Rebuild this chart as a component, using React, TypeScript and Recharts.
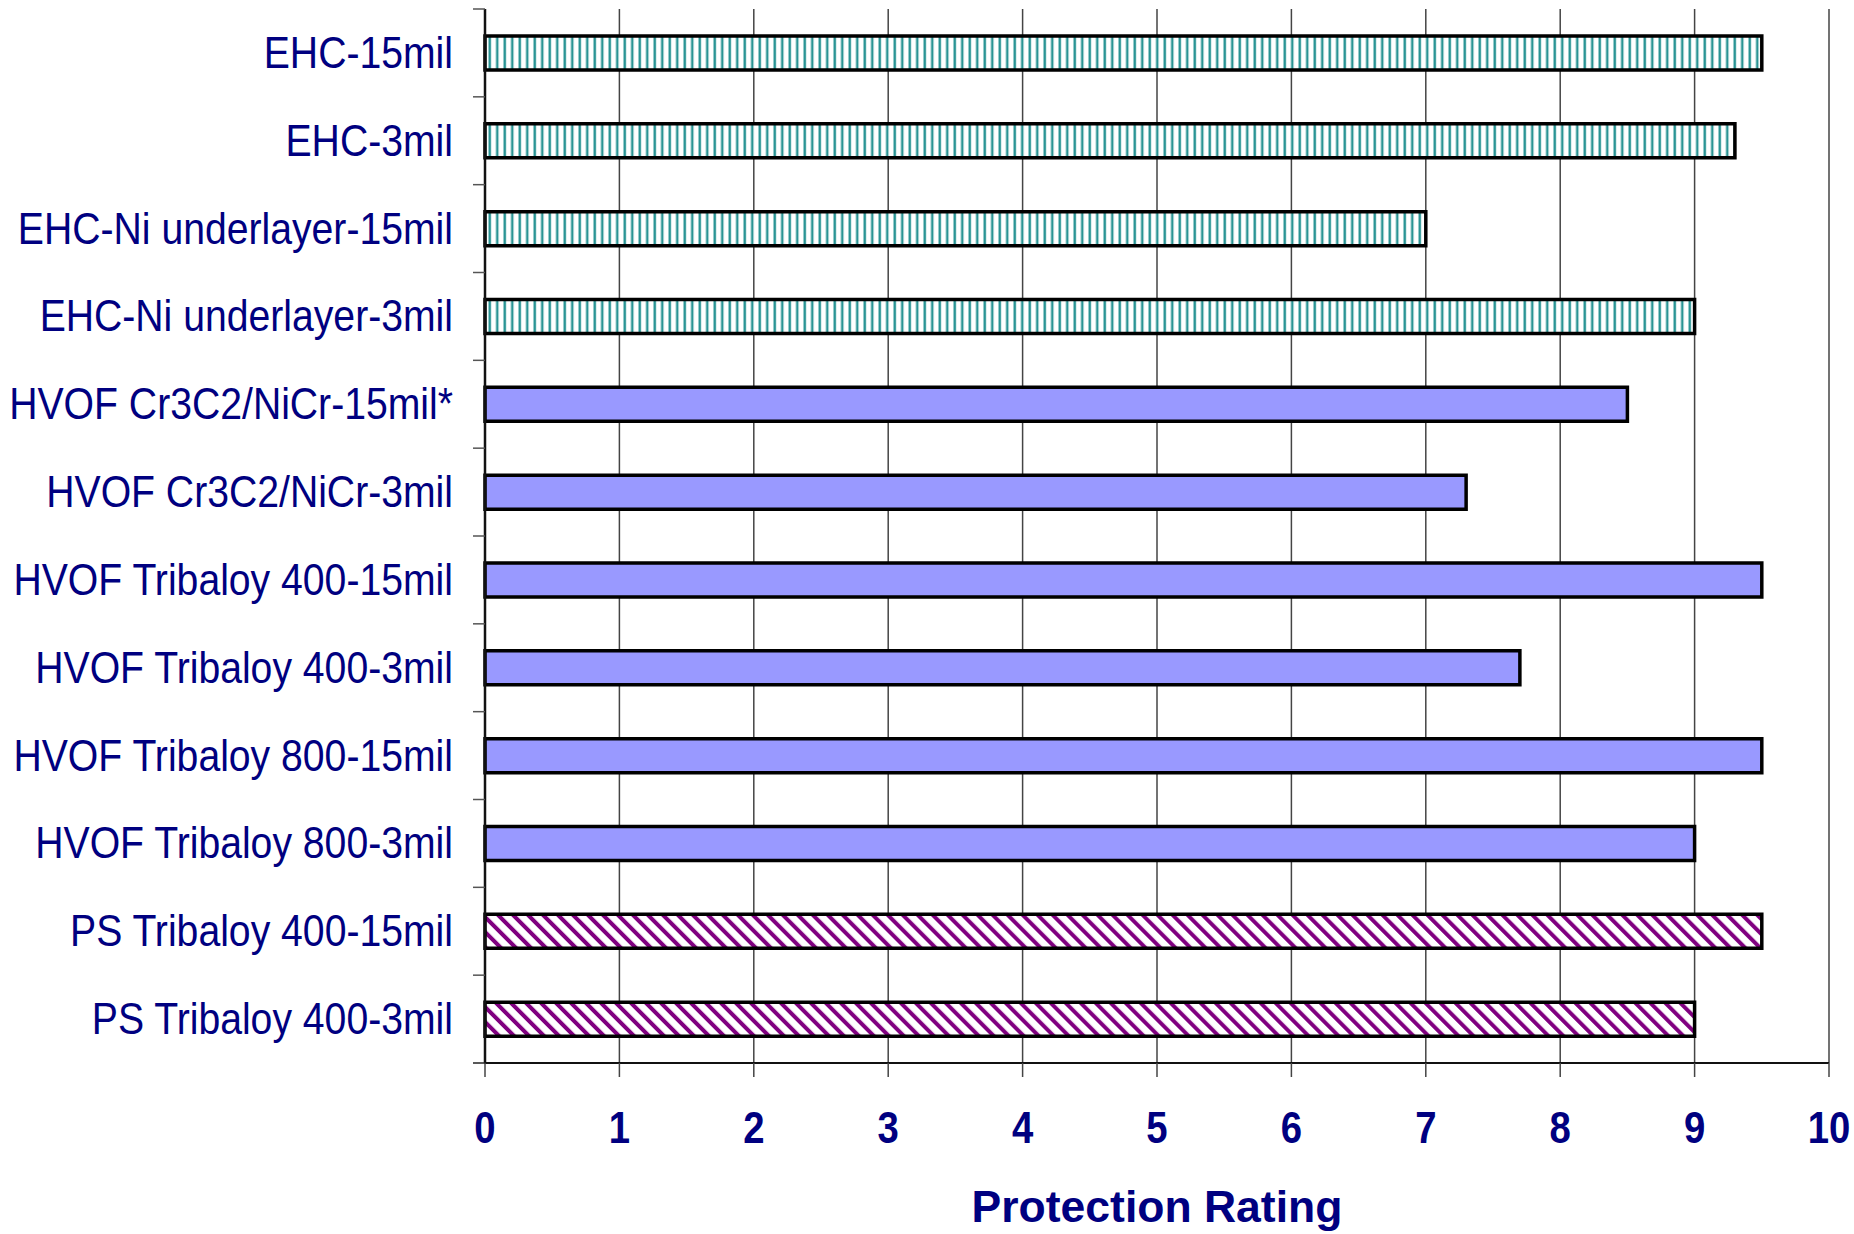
import React from 'react'
import { BarChart, Bar, XAxis, YAxis, CartesianGrid, Cell, Label } from 'recharts'

const coatings = [
  'EHC-15mil',
  'EHC-3mil',
  'EHC-Ni underlayer-15mil',
  'EHC-Ni underlayer-3mil',
  'HVOF Cr3C2/NiCr-15mil*',
  'HVOF Cr3C2/NiCr-3mil',
  'HVOF Tribaloy 400-15mil',
  'HVOF Tribaloy 400-3mil',
  'HVOF Tribaloy 800-15mil',
  'HVOF Tribaloy 800-3mil',
  'PS Tribaloy 400-15mil',
  'PS Tribaloy 400-3mil',
]
const ratings = [9.5, 9.3, 7.0, 9.0, 8.5, 7.3, 9.5, 7.7, 9.5, 9.0, 9.5, 9.0]
const processes = ['EHC', 'EHC', 'EHC', 'EHC', 'HVOF', 'HVOF', 'HVOF', 'HVOF', 'HVOF', 'HVOF', 'PS', 'PS']
const xTicks = [0, 1, 2, 3, 4, 5, 6, 7, 8, 9, 10]

const FILLS: Record<string, string> = {
  EHC: 'url(#tealStripes)',
  HVOF: '#9999FF',
  PS: 'url(#purpleStripes)',
}

const NAVY = '#000080'
const FONT = '"Liberation Sans", Arial, sans-serif'
const BAND = 1054 / 12

const data = coatings.map((name, i) => ({ name, value: ratings[i], process: processes[i] }))

const CategoryTick = (props: any) => {
  const { x, y, payload, index } = props
  const last = index === coatings.length - 1
  return (
    <g>
      <line x1={x - 12} x2={x} y1={y - BAND / 2} y2={y - BAND / 2} stroke="#555" strokeWidth={1.5} />
      {last && <line x1={x - 12} x2={x} y1={y + BAND / 2} y2={y + BAND / 2} stroke="#222" strokeWidth={1.5} />}
      <g transform={`translate(${x - 32},${y + 15}) scale(0.89,1)`}>
        <text x={0} y={0} textAnchor="end" fill={NAVY} fontSize={44} fontFamily={FONT}>
          {payload.value}
        </text>
      </g>
    </g>
  )
}

const RatingTick = (props: any) => {
  const { x, y, payload } = props
  return (
    <g transform={`translate(${x},${y + 66}) scale(0.87,1)`}>
      <text x={0} y={0} textAnchor="middle" fill={NAVY} fontSize={44} fontWeight="bold" fontFamily={FONT}>
        {payload.value}
      </text>
    </g>
  )
}

export default function App() {
  return (
    // fixed to the window so nothing scrolls; the reference is cut just under the title
    <div style={{ position: 'fixed', left: 0, top: 0, width: 1854, height: 1234, overflow: 'hidden', background: '#fff' }}>
      <div style={{ position: 'absolute', left: 8, top: 8 }}>
        <BarChart
          width={1846}
          height={1226}
          data={data}
          layout="vertical"
          margin={{ top: 1, right: 25, bottom: 0, left: 0 }}
          barCategoryGap={0}
        >
          <defs>
            <pattern id="tealStripes" patternUnits="userSpaceOnUse" width={7.5} height={10}>
              <rect x={0} y={0} width={7.5} height={10} fill="#fff" />
              <rect x={0.5} y={0} width={2.5} height={10} fill="#2a9494" />
            </pattern>
            <pattern
              id="purpleStripes"
              patternUnits="userSpaceOnUse"
              width={10.6}
              height={10.6}
              patternTransform="rotate(-45)"
            >
              <rect x={0} y={0} width={10.6} height={10.6} fill="#fff" />
              <rect x={0} y={0} width={4} height={10.6} fill="#800080" />
            </pattern>
          </defs>
          <CartesianGrid horizontal={false} stroke="#444" strokeWidth={1.5} />
          <XAxis
            type="number"
            domain={[0, 10]}
            ticks={xTicks}
            interval={0}
            height={171}
            tickSize={14}
            tickMargin={0}
            axisLine={{ stroke: '#111', strokeWidth: 2 }}
            tickLine={{ stroke: '#444', strokeWidth: 1.5 }}
            tick={<RatingTick />}
          >
            <Label
              content={(p: any) => {
                const vb = p.viewBox
                return (
                  <text
                    x={vb.x + vb.width / 2}
                    y={vb.y + 159}
                    textAnchor="middle"
                    fill={NAVY}
                    fontSize={44.5}
                    fontWeight="bold"
                    fontFamily={FONT}
                  >
                    Protection Rating
                  </text>
                )
              }}
            />
          </XAxis>
          <XAxis
            xAxisId="top"
            orientation="top"
            type="number"
            domain={[0, 10]}
            height={0}
            tick={false}
            tickLine={false}
            axisLine={{ stroke: '#999', strokeWidth: 1.5 }}
          />
          <YAxis
            type="category"
            dataKey="name"
            width={477}
            interval={0}
            tickSize={0}
            tickMargin={0}
            tickLine={false}
            axisLine={{ stroke: '#111', strokeWidth: 2.5 }}
            tick={<CategoryTick />}
          />
          <Bar dataKey="value" barSize={34} stroke="#000" strokeWidth={3.5} isAnimationActive={false}>
            {data.map((d, i) => (
              <Cell key={i} fill={FILLS[d.process]} />
            ))}
          </Bar>
        </BarChart>
      </div>
    </div>
  )
}
